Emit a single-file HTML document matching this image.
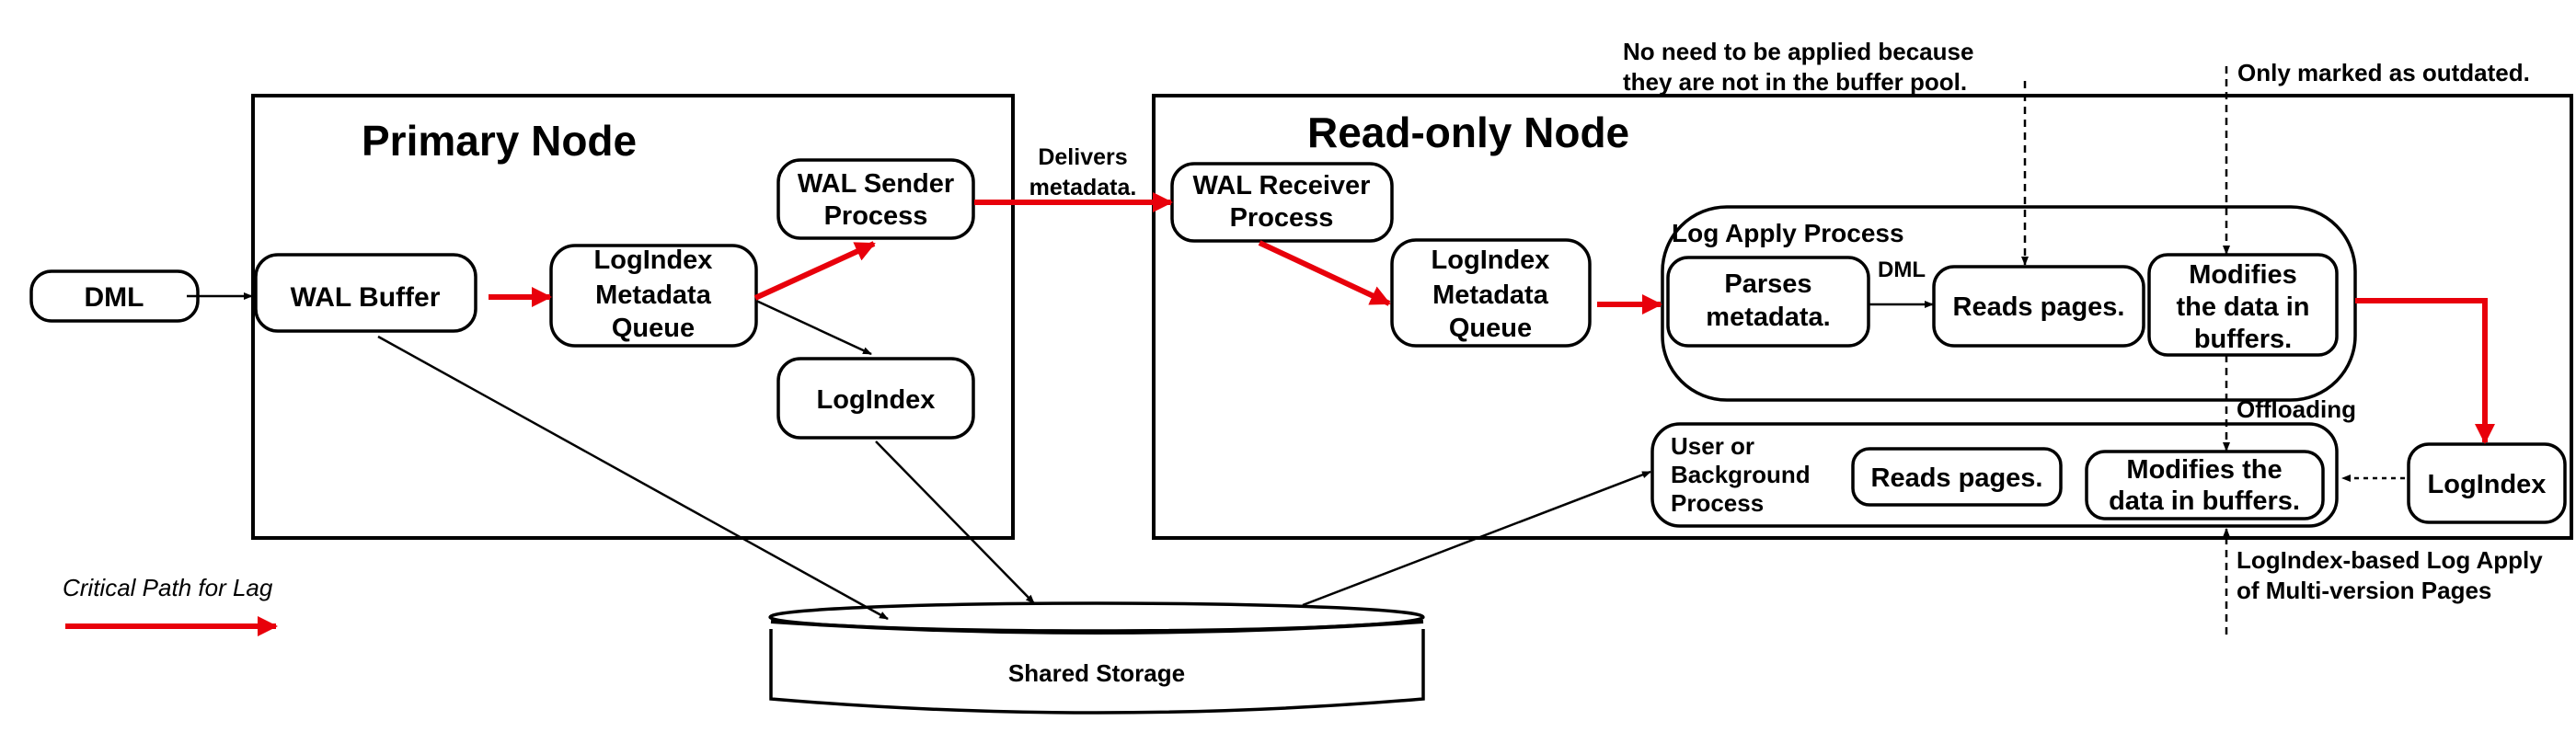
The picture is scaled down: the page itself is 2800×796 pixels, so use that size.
<!DOCTYPE html>
<html><head><meta charset="utf-8"><style>
html,body{margin:0;padding:0;background:#fff;}
svg{display:block;}
text{font-family:"Liberation Sans",Arial,sans-serif;font-weight:bold;fill:#000;}
</style></head><body>
<svg width="2800" height="796" viewBox="0 0 2800 796" xmlns="http://www.w3.org/2000/svg">
<defs>
<marker id="ab" markerWidth="10" markerHeight="10" refX="9" refY="5" orient="auto" markerUnits="userSpaceOnUse"><path d="M0,1 L10,5 L0,9 z" fill="#000"/></marker>
<marker id="ar" markerWidth="22" markerHeight="22" refX="20" refY="11" orient="auto" markerUnits="userSpaceOnUse"><path d="M0,0 L22,11 L0,22 z" fill="#e8000b"/></marker>
</defs>
<g fill="none" stroke="#000" stroke-width="4">
<rect x="275" y="104" width="826" height="481"/>
<rect x="1254" y="104" width="1541" height="481"/>
</g>
<g fill="#fff" stroke="#000" stroke-width="3.5">
<rect x="34" y="295" width="181" height="54" rx="22"/>
<rect x="278" y="277" width="239" height="83" rx="24"/>
<rect x="599" y="267" width="223" height="109" rx="26"/>
<rect x="846" y="174" width="212" height="85" rx="24"/>
<rect x="846" y="390" width="212" height="86" rx="24"/>
<rect x="1274" y="178" width="239" height="84" rx="24"/>
<rect x="1513" y="261" width="215" height="115" rx="26"/>
<rect x="1807" y="225" width="753" height="210" rx="70"/>
<rect x="1813" y="280" width="218" height="96" rx="22"/>
<rect x="2102" y="290" width="228" height="86" rx="22"/>
<rect x="2336" y="277" width="204" height="109" rx="20"/>
<rect x="1796" y="461" width="744" height="111" rx="30"/>
<rect x="2014" y="488" width="226" height="61" rx="18"/>
<rect x="2268" y="491" width="257" height="73" rx="20"/>
<rect x="2618" y="483" width="170" height="85" rx="22"/>
</g>
<!-- cylinder -->
<path d="M838,684 L838,760 Q1192,790 1547,760 L1547,684" fill="#fff" stroke="#000" stroke-width="3.5"/>
<ellipse cx="1192" cy="671" rx="355" ry="15" fill="#fff" stroke="#000" stroke-width="3.5"/>
<path d="M838,676 Q1192,700 1547,676" fill="none" stroke="#000" stroke-width="4"/>
<!-- black lines -->
<g stroke="#000" stroke-width="2.5" fill="none" marker-end="url(#ab)">
<line x1="203" y1="322" x2="274" y2="322"/>
<line x1="822" y1="327" x2="947" y2="385"/>
<line x1="411" y1="366" x2="965" y2="673"/>
<line x1="952" y1="480" x2="1124" y2="656"/>
<line x1="1416" y1="658" x2="1794" y2="513"/>
<line x1="2031" y1="331" x2="2101" y2="331"/>
</g>
<!-- dashed -->
<g stroke="#000" stroke-width="2.5" fill="none" stroke-dasharray="8,6">
<line x1="2201" y1="88" x2="2201" y2="288" marker-end="url(#ab)"/>
<line x1="2420" y1="72" x2="2420" y2="276" marker-end="url(#ab)"/>
<line x1="2420" y1="386" x2="2420" y2="490" marker-end="url(#ab)"/>
<line x1="2420" y1="690" x2="2420" y2="575" marker-end="url(#ab)"/>
<line x1="2614" y1="520" x2="2546" y2="520" stroke-dasharray="5,5" marker-end="url(#ab)"/>
</g>
<!-- red -->
<g stroke="#e8000b" stroke-width="6" fill="none" marker-end="url(#ar)">
<line x1="531" y1="323" x2="598" y2="323"/>
<line x1="821" y1="324" x2="950" y2="265"/>
<line x1="1059" y1="220" x2="1273" y2="220"/>
<line x1="1369" y1="264" x2="1510" y2="330"/>
<line x1="1736" y1="331" x2="1805" y2="331"/>
<polyline points="2560,327 2701,327 2701,481"/>
<line x1="71" y1="681" x2="300" y2="681"/>
</g>
<!-- text -->
<text x="124" y="333" font-size="30" text-anchor="middle">DML</text>
<text x="393" y="169" font-size="46">Primary Node</text>
<text x="397" y="333" font-size="30" text-anchor="middle">WAL Buffer</text>
<g font-size="29" text-anchor="middle">
<text x="710" y="292" text-anchor="middle">LogIndex</text>
<text x="710" y="330" text-anchor="middle">Metadata</text>
<text x="710" y="366" text-anchor="middle">Queue</text>
<text x="952" y="209" text-anchor="middle">WAL Sender</text>
<text x="952" y="244" text-anchor="middle">Process</text>
<text x="952" y="444" text-anchor="middle">LogIndex</text>
<text x="1393" y="211" text-anchor="middle">WAL Receiver</text>
<text x="1393" y="246" text-anchor="middle">Process</text>
<text x="1620" y="292" text-anchor="middle">LogIndex</text>
<text x="1620" y="330" text-anchor="middle">Metadata</text>
<text x="1620" y="366" text-anchor="middle">Queue</text>
<text x="1922" y="318" text-anchor="middle">Parses</text>
<text x="1922" y="354" text-anchor="middle">metadata.</text>
<text x="2216" y="343" text-anchor="middle">Reads pages.</text>
<text x="2438" y="308" text-anchor="middle">Modifies</text>
<text x="2438" y="343" text-anchor="middle">the data in</text>
<text x="2438" y="378" text-anchor="middle">buffers.</text>
<text x="2127" y="529" text-anchor="middle">Reads pages.</text>
<text x="2396" y="520" text-anchor="middle">Modifies the</text>
<text x="2396" y="554" text-anchor="middle">data in buffers.</text>
<text x="2703" y="536" text-anchor="middle">LogIndex</text>
</g>
<text x="1177" y="179" font-size="25" text-anchor="middle">Delivers</text>
<text x="1177" y="212" font-size="25" text-anchor="middle">metadata.</text>
<text x="1421" y="160" font-size="46">Read-only Node</text>
<text x="1817" y="263" font-size="28">Log Apply Process</text>
<text x="2041" y="301" font-size="24">DML</text>
<text x="1816" y="494" font-size="26">User or</text>
<text x="1816" y="525" font-size="26">Background</text>
<text x="1816" y="556" font-size="26">Process</text>
<text x="2431" y="454" font-size="26">Offloading</text>
<text x="1764" y="65" font-size="26">No need to be applied because</text>
<text x="1764" y="98" font-size="26">they are not in the buffer pool.</text>
<text x="2432" y="88" font-size="26">Only marked as outdated.</text>
<text x="2431" y="618" font-size="26">LogIndex-based Log Apply</text>
<text x="2431" y="651" font-size="26">of Multi-version Pages</text>
<text x="68" y="648" font-size="26" font-weight="normal" font-style="italic" style="font-weight:normal">Critical Path for Lag</text>
<text x="1192" y="741" font-size="26" text-anchor="middle">Shared Storage</text>
</svg>
</body></html>
